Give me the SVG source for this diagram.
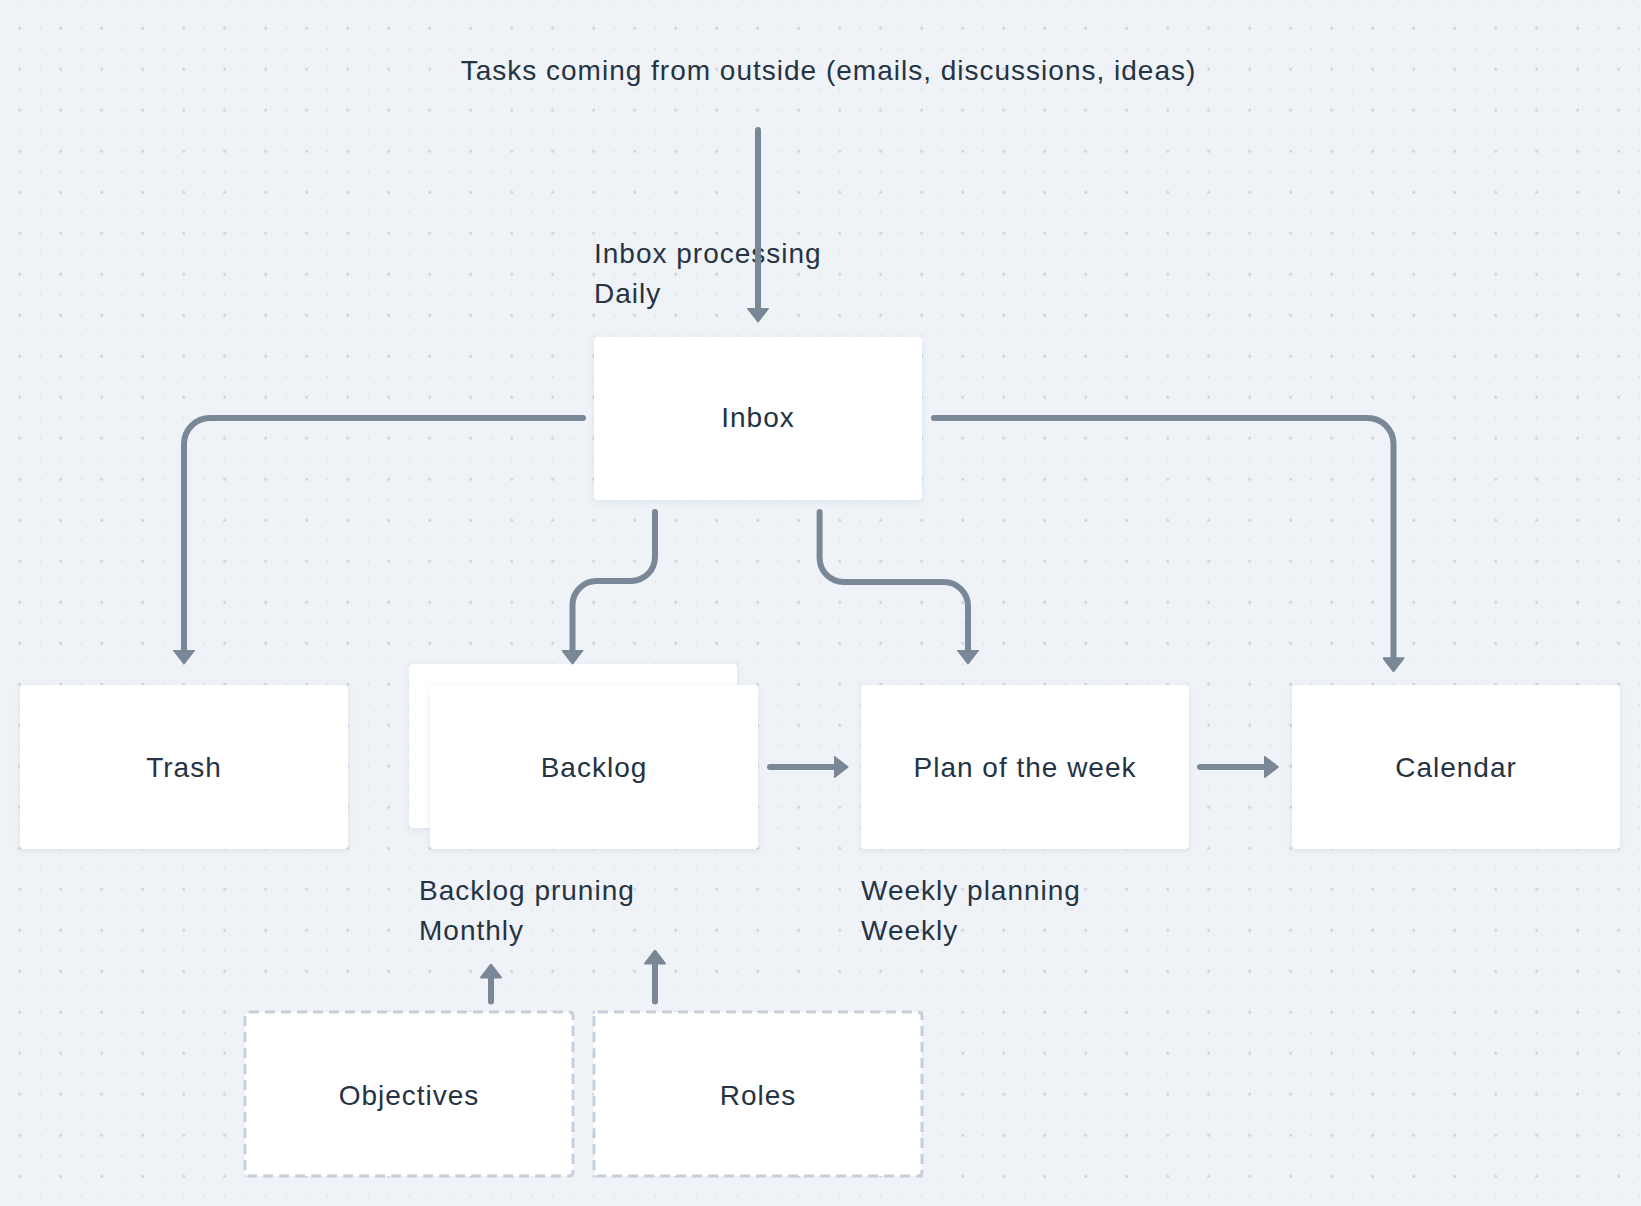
<svg xmlns="http://www.w3.org/2000/svg" width="1641" height="1206" viewBox="0 0 1641 1206">
<defs>
<pattern id="dots" patternUnits="userSpaceOnUse" x="-11.05" y="-2.45" width="41" height="41">
<circle cx="30.75" cy="30.75" r="1.6" fill="#c9d3df"/>
<circle cx="10.25" cy="30.75" r="0.8" fill="#cdd5df"/>
<circle cx="30.75" cy="10.25" r="0.8" fill="#cdd5df"/>
<circle cx="10.25" cy="10.25" r="0.8" fill="#cdd5df"/>
</pattern>
<filter id="shadow" x="-10%" y="-10%" width="120%" height="130%">
<feDropShadow dx="0" dy="2" stdDeviation="3" flood-color="#6a7c90" flood-opacity="0.14"/>
</filter>
<marker id="arrow" viewBox="0 0 15 22" refX="0.5" refY="11" markerWidth="15" markerHeight="22" markerUnits="userSpaceOnUse" orient="auto">
<path d="M1,1 L14,11 L1,21 Z" fill="#7a8796" stroke="#7a8796" stroke-width="2" stroke-linejoin="round"/>
</marker>
<style>
.node{fill:#ffffff;filter:url(#shadow);}
.dashed{fill:#ffffff;stroke:#c5cfd9;stroke-width:3;stroke-dasharray:10 6;}
.lbl{font-family:"Liberation Sans","DejaVu Sans",sans-serif;font-size:28px;fill:#253343;letter-spacing:1px;}
.ctr{text-anchor:middle;}
.conn{fill:none;stroke:#7a8796;stroke-width:6;stroke-linecap:round;stroke-linejoin:round;marker-end:url(#arrow);}
</style>
</defs>
<rect width="1641" height="1206" fill="#eff3f7"/>
<rect width="1641" height="1206" fill="url(#dots)"/>

<g id="labels">
<text class="lbl" x="460.7" y="80">Tasks coming from outside (emails, discussions, ideas)</text>
<text class="lbl" x="594" y="263">Inbox processing</text>
<text class="lbl" x="594" y="303">Daily</text>
<text class="lbl" x="419" y="900">Backlog pruning</text>
<text class="lbl" x="419" y="940">Monthly</text>
<text class="lbl" x="861" y="900">Weekly planning</text>
<text class="lbl" x="861" y="940">Weekly</text>
</g>

<g id="inbox">
<rect class="node" x="594" y="337" width="328" height="163" rx="4"/>
<text class="lbl ctr" x="758" y="427">Inbox</text>
</g>
<g id="trash">
<rect class="node" x="20" y="685" width="328" height="164" rx="4"/>
<text class="lbl ctr" x="184" y="777">Trash</text>
</g>
<g id="backlog">
<rect class="node" x="409" y="664" width="328" height="164" rx="4"/>
<rect class="node" x="430" y="685" width="328" height="164" rx="4"/>
<text class="lbl ctr" x="594" y="777">Backlog</text>
</g>
<g id="plan">
<rect class="node" x="861" y="685" width="328" height="164" rx="4"/>
<text class="lbl ctr" x="1025" y="777">Plan of the week</text>
</g>
<g id="calendar">
<rect class="node" x="1292" y="685" width="328" height="164" rx="4"/>
<text class="lbl ctr" x="1456" y="777">Calendar</text>
</g>
<g id="objectives">
<rect class="dashed" x="245" y="1012" width="328" height="164" rx="4"/>
<text class="lbl ctr" x="409" y="1105">Objectives</text>
</g>
<g id="roles">
<rect class="dashed" x="594" y="1012" width="328" height="164" rx="4"/>
<text class="lbl ctr" x="758" y="1105">Roles</text>
</g>

<g id="connectors">
<path class="conn" d="M758,130 V308"/>
<path class="conn" d="M583,418 H210 A26,26 0 0 0 184,444 V650"/>
<path class="conn" d="M655,512 V557 A24,24 0 0 1 631,581 H596.5 A24,24 0 0 0 572.5,605 V650"/>
<path class="conn" d="M819.6,512 V558 A24,24 0 0 0 843.6,582 H944 A24,24 0 0 1 968,606 V650"/>
<path class="conn" d="M934,418 H1367.5 A26,26 0 0 1 1393.5,444 V657.7"/>
<path class="conn" d="M770,767 H834"/>
<path class="conn" d="M1200,767 H1264.3"/>
<path class="conn" d="M491,1001.5 V978"/>
<path class="conn" d="M655,1001.5 V964"/>
</g>
</svg>
